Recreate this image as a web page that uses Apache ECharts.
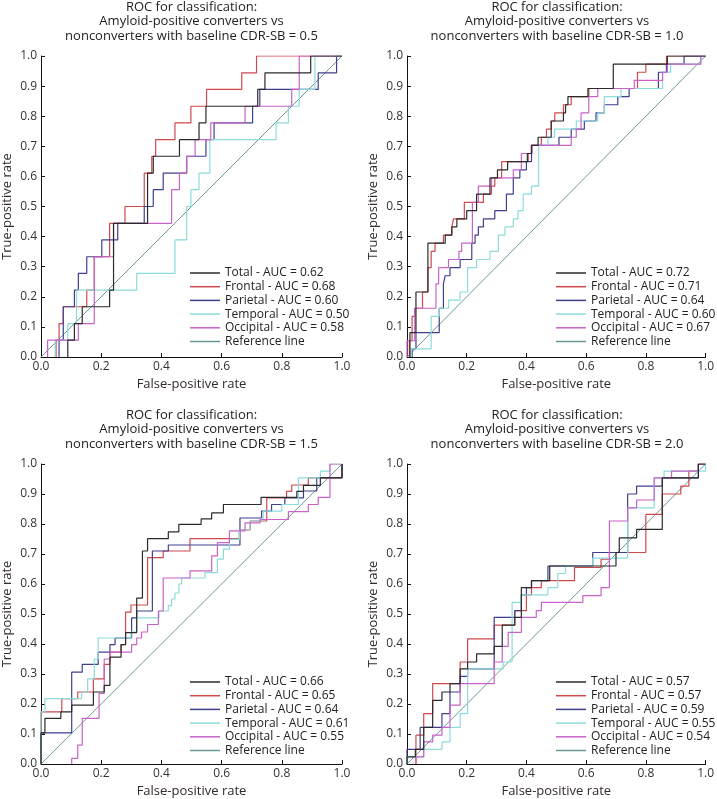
<!DOCTYPE html>
<html>
<head>
<meta charset="utf-8">
<script src="https://cdn.jsdelivr.net/npm/echarts@6/dist/echarts.min.js"></script>
<style>
html,body{margin:0;padding:0;background:#fff;}
#chart{width:717px;height:799px;}
</style>
</head>
<body>
<div id="chart"></div>
<script>
// ---------- DATA ----------
const xTicks = [0, 0.2, 0.4, 0.6, 0.8, 1.0];
const yTicks = [0, 0.1, 0.2, 0.3, 0.4, 0.5, 0.6, 0.7, 0.8, 0.9, 1.0];
const cdrValues = ['0.5', '1.0', '1.5', '2.0'];
const regions = ['Total', 'Frontal', 'Parietal', 'Temporal', 'Occipital'];
const aucP1 = ['0.62', '0.68', '0.60', '0.50', '0.58'];
const aucP2 = ['0.72', '0.71', '0.64', '0.60', '0.67'];
const aucP3 = ['0.66', '0.65', '0.64', '0.61', '0.55'];
const aucP4 = ['0.57', '0.57', '0.59', '0.55', '0.54'];
const refLine = [0, 1];

// Step curves: at x = X[i] the curve rises to Y[i], then runs flat to X[i+1]
// Panel 1 (CDR-SB = 0.5)
const p1TotalX = [0.089, 0.111, 0.137, 0.228, 0.241, 0.354, 0.373, 0.46, 0.525, 0.548, 0.72, 0.744, 0.896];
const p1TotalY = [0.056, 0.111, 0.167, 0.222, 0.444, 0.611, 0.667, 0.722, 0.778, 0.833, 0.889, 0.944, 1];
const p1FrontalX = [0.05, 0.06, 0.074, 0.152, 0.177, 0.228, 0.279, 0.343, 0.368, 0.381, 0.445, 0.498, 0.55, 0.667, 0.716];
const p1FrontalY = [0.056, 0.111, 0.167, 0.222, 0.333, 0.444, 0.5, 0.611, 0.667, 0.722, 0.778, 0.833, 0.889, 0.944, 1];
const p1ParietalX = [0.06, 0.074, 0.111, 0.124, 0.152, 0.202, 0.255, 0.343, 0.373, 0.406, 0.484, 0.548, 0.575, 0.703, 0.727, 0.921, 0.982];
const p1ParietalY = [0.056, 0.167, 0.222, 0.278, 0.333, 0.389, 0.444, 0.5, 0.556, 0.611, 0.667, 0.722, 0.778, 0.833, 0.889, 0.944, 1];
const p1TemporalX = [0.047, 0.089, 0.118, 0.318, 0.445, 0.484, 0.498, 0.525, 0.561, 0.781, 0.822, 0.858, 0.91];
const p1TemporalY = [0.056, 0.111, 0.222, 0.278, 0.389, 0.5, 0.556, 0.611, 0.722, 0.778, 0.833, 0.889, 1];
const p1OccipitalX = [0.022, 0.124, 0.177, 0.241, 0.434, 0.46, 0.484, 0.512, 0.564, 0.678, 0.833, 0.858];
const p1OccipitalY = [0.056, 0.111, 0.333, 0.444, 0.556, 0.611, 0.667, 0.722, 0.778, 0.833, 0.889, 1];

// Panel 2 (CDR-SB = 1.0)
const p2TotalX = [0.01, 0.03, 0.07, 0.128, 0.15, 0.167, 0.2, 0.233, 0.278, 0.303, 0.337, 0.403, 0.417, 0.439, 0.483, 0.524, 0.531, 0.539, 0.606, 0.691, 0.872];
const p2TotalY = [0.081, 0.216, 0.378, 0.405, 0.432, 0.459, 0.486, 0.541, 0.595, 0.622, 0.649, 0.676, 0.703, 0.730, 0.784, 0.811, 0.838, 0.865, 0.892, 0.973, 1];
const p2FrontalX = [0.008, 0.017, 0.026, 0.052, 0.07, 0.081, 0.094, 0.122, 0.15, 0.156, 0.192, 0.256, 0.283, 0.294, 0.317, 0.406, 0.417, 0.45, 0.467, 0.483, 0.495, 0.524, 0.55, 0.609, 0.772, 0.8, 0.869];
const p2FrontalY = [0.054, 0.135, 0.162, 0.216, 0.297, 0.351, 0.378, 0.405, 0.432, 0.459, 0.514, 0.541, 0.568, 0.595, 0.649, 0.676, 0.703, 0.730, 0.757, 0.784, 0.811, 0.838, 0.865, 0.892, 0.946, 0.973, 1];
const p2ParietalX = [0.017, 0.03, 0.108, 0.122, 0.128, 0.144, 0.178, 0.217, 0.228, 0.239, 0.256, 0.294, 0.333, 0.356, 0.378, 0.4, 0.417, 0.509, 0.55, 0.594, 0.633, 0.661, 0.706, 0.744, 0.842, 0.869, 0.928];
const p2ParietalY = [0.027, 0.081, 0.162, 0.243, 0.270, 0.297, 0.324, 0.378, 0.405, 0.432, 0.459, 0.486, 0.541, 0.595, 0.622, 0.649, 0.703, 0.730, 0.757, 0.784, 0.811, 0.838, 0.865, 0.892, 0.946, 0.973, 1];
const p2TemporalX = [0.014, 0.081, 0.108, 0.139, 0.178, 0.203, 0.233, 0.278, 0.306, 0.328, 0.356, 0.372, 0.389, 0.417, 0.441, 0.472, 0.494, 0.567, 0.639, 0.661, 0.717, 0.856, 0.883, 0.984];
const p2TemporalY = [0.027, 0.135, 0.162, 0.189, 0.216, 0.297, 0.324, 0.351, 0.405, 0.432, 0.459, 0.486, 0.541, 0.568, 0.703, 0.730, 0.757, 0.784, 0.811, 0.865, 0.892, 0.946, 0.973, 1];
const p2OccipitalX = [0.0, 0.026, 0.097, 0.106, 0.139, 0.174, 0.183, 0.219, 0.239, 0.283, 0.356, 0.383, 0.419, 0.55, 0.567, 0.583, 0.609, 0.639, 0.761, 0.856, 0.872, 0.984];
const p2OccipitalY = [0.054, 0.162, 0.243, 0.297, 0.324, 0.351, 0.378, 0.514, 0.568, 0.595, 0.622, 0.676, 0.703, 0.730, 0.757, 0.811, 0.865, 0.892, 0.919, 0.946, 0.973, 1];

// Panel 3 (CDR-SB = 1.5)
const p3TotalX = [0.0, 0.013, 0.066, 0.102, 0.174, 0.21, 0.229, 0.266, 0.281, 0.318, 0.337, 0.354, 0.423, 0.458, 0.532, 0.567, 0.606, 0.731, 0.85, 0.872, 0.928, 1.0];
const p3TotalY = [0.104, 0.152, 0.174, 0.196, 0.24, 0.262, 0.356, 0.398, 0.438, 0.553, 0.71, 0.751, 0.774, 0.799, 0.817, 0.837, 0.865, 0.889, 0.909, 0.929, 0.954, 1.0];
const p3FrontalX = [0.0, 0.069, 0.122, 0.174, 0.21, 0.229, 0.266, 0.281, 0.299, 0.354, 0.406, 0.495, 0.659, 0.695, 0.75, 0.816, 0.833, 0.888, 1.0];
const p3FrontalY = [0.174, 0.218, 0.24, 0.284, 0.332, 0.373, 0.398, 0.506, 0.53, 0.688, 0.71, 0.751, 0.78, 0.81, 0.887, 0.909, 0.93, 0.954, 1.0];
const p3ParietalX = [0.0, 0.102, 0.137, 0.19, 0.229, 0.246, 0.301, 0.318, 0.37, 0.423, 0.661, 0.733, 0.766, 0.81, 0.872, 0.916, 1.0];
const p3ParietalY = [0.104, 0.306, 0.332, 0.373, 0.398, 0.42, 0.487, 0.51, 0.71, 0.73, 0.82, 0.843, 0.865, 0.887, 0.91, 0.955, 1.0];
const p3TemporalX = [0.0, 0.013, 0.135, 0.155, 0.177, 0.19, 0.299, 0.318, 0.392, 0.423, 0.434, 0.445, 0.458, 0.467, 0.545, 0.586, 0.606, 0.626, 0.659, 0.694, 0.738, 0.8, 0.855, 0.928, 0.96];
const p3TemporalY = [0.174, 0.218, 0.24, 0.284, 0.35, 0.42, 0.44, 0.487, 0.51, 0.528, 0.55, 0.57, 0.6, 0.62, 0.638, 0.683, 0.716, 0.749, 0.78, 0.81, 0.843, 0.865, 0.954, 0.976, 1.0];
const p3OccipitalX = [0.102, 0.122, 0.137, 0.193, 0.21, 0.229, 0.301, 0.318, 0.334, 0.354, 0.39, 0.406, 0.495, 0.567, 0.586, 0.626, 0.678, 0.728, 0.822, 0.888, 0.921, 0.96];
const p3OccipitalY = [0.019, 0.063, 0.152, 0.235, 0.35, 0.373, 0.398, 0.42, 0.44, 0.465, 0.51, 0.62, 0.644, 0.694, 0.738, 0.777, 0.804, 0.815, 0.841, 0.865, 0.889, 1.0];

// Panel 4 (CDR-SB = 2.0)
const p4TotalX = [0.0, 0.028, 0.056, 0.086, 0.117, 0.144, 0.178, 0.203, 0.233, 0.292, 0.319, 0.361, 0.383, 0.417, 0.478, 0.7, 0.711, 0.769, 0.855, 0.976];
const p4TotalY = [0.024, 0.049, 0.122, 0.212, 0.24, 0.268, 0.317, 0.34, 0.367, 0.392, 0.463, 0.489, 0.588, 0.611, 0.66, 0.705, 0.754, 0.782, 0.954, 1.0];
const p4FrontalX = [0.03, 0.056, 0.086, 0.178, 0.203, 0.292, 0.361, 0.4, 0.417, 0.45, 0.561, 0.65, 0.678, 0.8, 0.855, 0.917, 0.944, 0.976];
const p4FrontalY = [0.096, 0.168, 0.268, 0.34, 0.417, 0.463, 0.511, 0.564, 0.588, 0.611, 0.655, 0.683, 0.705, 0.832, 0.9, 0.926, 0.976, 1.0];
const p4ParietalX = [0.0, 0.044, 0.117, 0.144, 0.178, 0.203, 0.292, 0.361, 0.383, 0.4, 0.417, 0.472, 0.622, 0.739, 0.769, 0.855, 0.976];
const p4ParietalY = [0.049, 0.122, 0.168, 0.24, 0.292, 0.317, 0.489, 0.511, 0.564, 0.588, 0.611, 0.66, 0.705, 0.9, 0.926, 0.954, 1.0];
const p4TemporalX = [0.0, 0.056, 0.117, 0.144, 0.178, 0.203, 0.322, 0.352, 0.383, 0.472, 0.505, 0.531, 0.622, 0.739, 0.828, 0.861, 1.0];
const p4TemporalY = [0.024, 0.049, 0.074, 0.122, 0.168, 0.317, 0.34, 0.539, 0.564, 0.588, 0.635, 0.66, 0.686, 0.854, 0.954, 0.976, 1.0];
const p4OccipitalX = [0.03, 0.056, 0.086, 0.117, 0.144, 0.178, 0.292, 0.319, 0.339, 0.383, 0.433, 0.45, 0.589, 0.65, 0.678, 0.739, 0.769, 0.828, 0.886, 0.976];
const p4OccipitalY = [0.024, 0.074, 0.096, 0.122, 0.196, 0.268, 0.34, 0.392, 0.439, 0.489, 0.511, 0.539, 0.561, 0.588, 0.81, 0.854, 0.88, 0.954, 0.976, 1.0];

// ---------- STYLE ----------
const colors = ['#2b2b2b', '#d0494c', '#3f3f8e', '#8ddcdc', '#c963c9'];
const refColor = '#6a9999';
const FONT = '"Open Sans", "Noto Sans", sans-serif';

const panelCurves = [
  [[p1TotalX, p1TotalY], [p1FrontalX, p1FrontalY], [p1ParietalX, p1ParietalY], [p1TemporalX, p1TemporalY], [p1OccipitalX, p1OccipitalY]],
  [[p2TotalX, p2TotalY], [p2FrontalX, p2FrontalY], [p2ParietalX, p2ParietalY], [p2TemporalX, p2TemporalY], [p2OccipitalX, p2OccipitalY]],
  [[p3TotalX, p3TotalY], [p3FrontalX, p3FrontalY], [p3ParietalX, p3ParietalY], [p3TemporalX, p3TemporalY], [p3OccipitalX, p3OccipitalY]],
  [[p4TotalX, p4TotalY], [p4FrontalX, p4FrontalY], [p4ParietalX, p4ParietalY], [p4TemporalX, p4TemporalY], [p4OccipitalX, p4OccipitalY]]
];
const panelAuc = [aucP1, aucP2, aucP3, aucP4];

const grids = [
  {left: 41, top: 56, width: 301, height: 301},
  {left: 407, top: 56, width: 300, height: 301},
  {left: 41, top: 464, width: 301, height: 302},
  {left: 407, top: 464, width: 300, height: 302}
];
const titleTops = [0, 408];

function stepPoints(xs, ys) {
  const pts = [[xs[0], 0]];
  let y = 0;
  for (let i = 0; i < xs.length; i++) {
    pts.push([xs[i], y]);
    y = ys[i];
    pts.push([xs[i], y]);
  }
  pts.push([1, y]);
  return pts;
}

const option = {
  animation: false,
  backgroundColor: '#fff',
  title: [],
  legend: [],
  grid: grids,
  xAxis: [],
  yAxis: [],
  series: []
};

for (let p = 0; p < 4; p++) {
  const g = grids[p];
  option.title.push({
    text: 'ROC for classification:\nAmyloid-positive converters vs\nnonconverters with baseline CDR-SB = ' + cdrValues[p],
    left: g.left + g.width / 2,
    top: titleTops[Math.floor(p / 2)],
    textAlign: 'center',
    padding: 0,
    textStyle: {fontFamily: FONT, fontSize: 13, fontWeight: 'normal', color: '#222', lineHeight: 14.5}
  });
  option.xAxis.push({
    type: 'value', gridIndex: p, min: xTicks[0], max: xTicks[xTicks.length - 1], interval: 0.2,
    name: 'False-positive rate', nameLocation: 'middle', nameGap: 21,
    nameTextStyle: {fontFamily: FONT, fontSize: 13, color: '#332a2a'},
    axisLine: {show: true, lineStyle: {color: '#111', width: 1}},
    axisTick: {show: true, inside: true, length: 4, lineStyle: {color: '#111'}},
    axisLabel: {fontFamily: FONT, fontSize: 12, color: '#333', margin: 4, formatter: v => v.toFixed(1)},
    splitLine: {show: false}
  });
  option.yAxis.push({
    type: 'value', gridIndex: p, min: yTicks[0], max: yTicks[yTicks.length - 1], interval: 0.1,
    name: 'True-positive rate', nameLocation: 'middle', nameGap: 27,
    nameTextStyle: {fontFamily: FONT, fontSize: 13, color: '#332a2a'},
    axisLine: {show: true, lineStyle: {color: '#111', width: 1}},
    axisTick: {show: true, inside: true, length: 4, lineStyle: {color: '#111'}},
    axisLabel: {fontFamily: FONT, fontSize: 12, color: '#333', margin: 4, formatter: v => v.toFixed(1)},
    splitLine: {show: false}
  });
  const names = [];
  for (let c = 0; c < 5; c++) {
    const nm = regions[c] + ' - AUC = ' + panelAuc[p][c];
    names.push(nm);
    option.series.push({
      type: 'line', name: nm, xAxisIndex: p, yAxisIndex: p,
      data: stepPoints(panelCurves[p][c][0], panelCurves[p][c][1]),
      symbol: 'none', showSymbol: false,
      lineStyle: {color: colors[c], width: 1.2},
      itemStyle: {color: colors[c]},
      z: 3 + (c === 0 ? 1 : 0)
    });
  }
  names.push('Reference line');
  option.series.push({
    type: 'line', name: 'Reference line', xAxisIndex: p, yAxisIndex: p,
    data: [[refLine[0], refLine[0]], [refLine[1], refLine[1]]],
    symbol: 'none', showSymbol: false,
    lineStyle: {color: refColor, width: 1},
    itemStyle: {color: refColor},
    z: 2
  });
  option.legend.push({
    data: names,
    orient: 'vertical',
    left: g.left + 149,
    top: g.top + g.height - 90,
    padding: 0,
    itemGap: 1.7,
    itemWidth: 30,
    itemHeight: 1.5,
    icon: 'rect',
    textStyle: {fontFamily: FONT, fontSize: 12, color: '#222', lineHeight: 12}
  });
}

const chart = echarts.init(document.getElementById('chart'), null, {renderer: 'canvas'});
chart.setOption(option);
</script>
</body>
</html>
